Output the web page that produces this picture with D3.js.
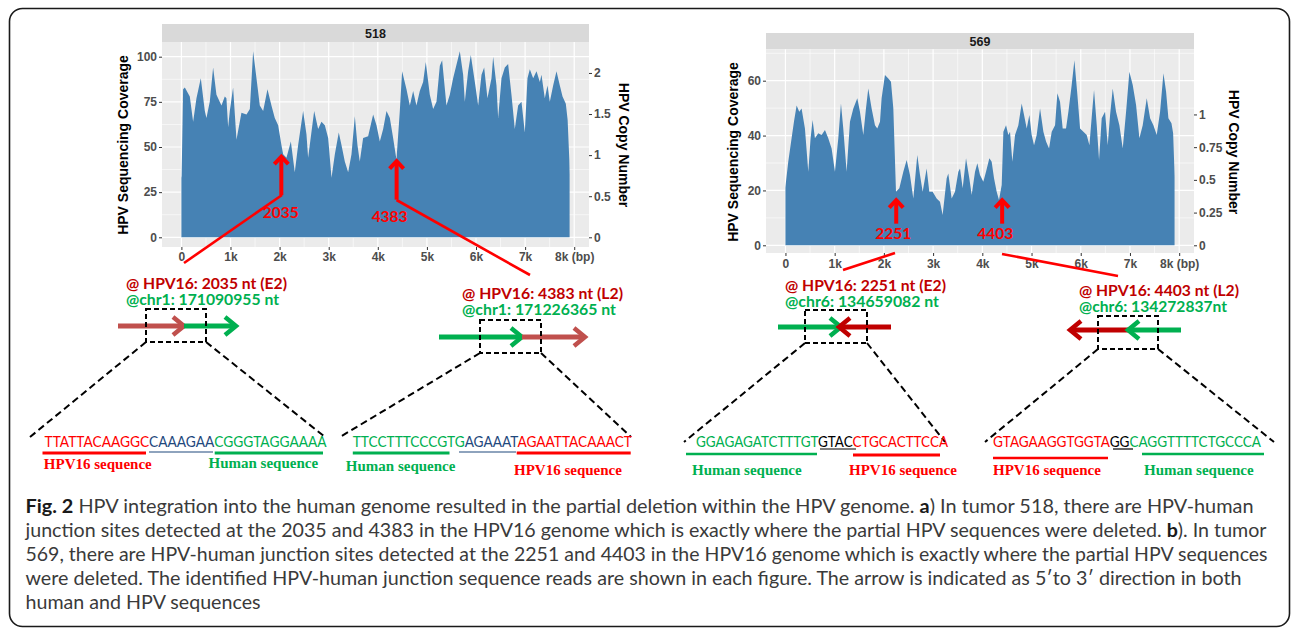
<!DOCTYPE html>
<html>
<head>
<meta charset="utf-8">
<script src="https://cdn.jsdelivr.net/npm/d3@7"></script>
<style>
  body { margin: 0; background: #fff; }
  svg { display: block; font-family: "Liberation Sans", Arial, sans-serif; }
</style>
</head>
<body>
<svg id="fig" width="1292" height="628"></svg>
<script>
// coverage along the HPV16 genome (bp, reads)
const pos518 = [0, 5, 35, 70, 171, 239, 307, 395, 477, 510, 578, 646, 714, 816, 884, 917, 952, 986, 1053, 1122,
  1223, 1326, 1394, 1461, 1529, 1597, 1665, 1753, 1834, 1902, 1970, 2038, 2072, 2140, 2229, 2309, 2377, 2479, 2547, 2581,
  2704, 2785, 2853, 2921, 2989, 3057, 3125, 3205, 3261, 3328, 3396, 3464, 3532, 3586, 3633, 3701, 3803, 3905, 3973, 4041,
  4109, 4177, 4245, 4312, 4380, 4448, 4495, 4584, 4652, 4720, 4787, 4855, 4923, 4977, 5059, 5127, 5195, 5263, 5310, 5398,
  5466, 5534, 5670, 5738, 5772, 5840, 5894, 5976, 6044, 6112, 6166, 6233, 6315, 6349, 6417, 6451, 6519, 6587, 6654, 6722,
  6790, 6858, 6926, 6994, 7048, 7096, 7164, 7232, 7300, 7333, 7401, 7456, 7503, 7571, 7639, 7707, 7762, 7829, 7866, 7900, 7906];
const cov518 = [33, 34, 82, 83, 78, 64, 77, 88, 70, 66, 75, 94, 79, 73, 78, 77, 61, 70, 83, 54,
  69, 68, 71, 103, 88, 73, 70, 82, 73, 66, 62, 51, 46, 44, 53, 36, 51, 70, 57, 44,
  70, 60, 64, 62, 55, 33, 46, 58, 51, 42, 36, 46, 67, 51, 42, 55, 56, 68, 62, 53,
  60, 70, 66, 55, 43, 70, 92, 82, 73, 81, 73, 81, 86, 97, 79, 71, 75, 95, 98, 73,
  79, 88, 103, 90, 75, 92, 101, 86, 73, 90, 94, 77, 88, 100, 84, 66, 88, 94, 96, 79,
  60, 73, 75, 58, 88, 93, 88, 92, 86, 90, 77, 84, 75, 84, 92, 84, 78, 74, 65, 43, 35];

const pos569 = [0, 10, 57, 125, 173, 227, 281, 328, 396, 464, 511, 552, 599, 667, 735, 803, 870, 938, 1006, 1074,
  1128, 1175, 1243, 1311, 1379, 1460, 1514, 1582, 1636, 1683, 1751, 1819, 1866, 1921, 1954, 2022, 2090, 2144, 2192, 2246,
  2314, 2395, 2463, 2530, 2598, 2679, 2734, 2788, 2869, 2923, 2991, 3072, 3140, 3194, 3276, 3309, 3377, 3445, 3513, 3547,
  3601, 3669, 3736, 3784, 3852, 3899, 3953, 4021, 4075, 4143, 4190, 4238, 4292, 4339, 4394, 4428, 4482, 4529, 4563, 4610,
  4665, 4732, 4800, 4848, 4902, 4956, 5003, 5051, 5105, 5173, 5241, 5295, 5356, 5410, 5478, 5525, 5579, 5633, 5701, 5749,
  5816, 5871, 5932, 5986, 6054, 6121, 6176, 6243, 6270, 6325, 6372, 6426, 6494, 6548, 6596, 6650, 6717, 6785, 6853, 6921,
  6988, 7056, 7124, 7192, 7259, 7341, 7409, 7476, 7544, 7612, 7680, 7734, 7781, 7843, 7877, 7900, 7906];
const cov569 = [21, 23, 30.5, 39, 45, 51, 48.7, 49.9, 42.6, 26.8, 39, 45.7, 39, 40.8, 40.2, 42, 39, 35.3, 26.8, 39,
  51.7, 42.6, 26.8, 45, 49.9, 53.6, 48.7, 40.2, 49.9, 57.2, 49.9, 43.8, 42.6, 45, 53.6, 62.1, 60.8, 59.6, 49.9, 19.5,
  20.8, 26.8, 31.1, 25.6, 17.1, 32.9, 25.6, 19.5, 28, 19.5, 19.5, 17.1, 15.9, 11, 24.4, 26.2, 17.1, 19.5, 26.8, 28,
  20.8, 31.7, 24.4, 18.3, 26.8, 29.9, 25.6, 23.2, 26.8, 31.7, 30.5, 24.4, 19.5, 16.5, 22, 41.4, 43.8, 40.2, 41.4, 30.5,
  40.2, 43.8, 51.7, 47.5, 42.6, 47.5, 40.2, 36.5, 40.2, 49.9, 41.4, 37.8, 35.3, 41.4, 43.8, 55.4, 52.3, 42.6, 42.6, 48.7,
  58.4, 67.5, 54.8, 42.6, 41.4, 40.2, 36.5, 51.1, 56.6, 43.8, 31.1, 46.3, 48.7, 36.5, 47.5, 57.2, 48.7, 43.8, 35.3, 48.7,
  63.3, 58.4, 51.1, 39, 43.8, 53.6, 46.3, 43.8, 40.2, 48.7, 62.7, 56, 46.3, 44.5, 40.8, 29, 25];

const xTicks = [0, 1000, 2000, 3000, 4000, 5000, 6000, 7000, 8000];
const xTickLabels = ["0", "1k", "2k", "3k", "4k", "5k", "6k", "7k", "8k (bp)"];
const covTicks518 = [0, 25, 50, 75, 100];
const copyTicks518 = [0, 0.5, 1, 1.5, 2];
const covTicks569 = [0, 20, 40, 60];
const copyTicks569 = [0, 0.25, 0.5, 0.75, 1];
const readsPerCopy518 = 45.5;
const readsPerCopy569 = 47.7;

// junction sites (bp) and coverage where the arrow tip sits
const sites518 = [2035, 4383];
const tipCov518 = [45.5, 43];
const sites569 = [2251, 4403];
const tipCov569 = [17, 17];

const hpvSiteText = ["@ HPV16: 2035 nt (E2)", "@ HPV16: 4383 nt (L2)", "@ HPV16: 2251 nt (E2)", "@ HPV16: 4403 nt (L2)"];
const chrSiteText = ["@chr1: 171090955 nt", "@chr1: 171226365 nt", "@chr6: 134659082 nt", "@chr6: 134272837nt"];
const seqParts = [
  [["TTATTACAAGGC", "hpv"], ["CAAAGAA", "mid"], ["CGGGTAGGAAAA", "hum"]],
  [["TTCCTTTCCCGTG", "hum"], ["AGAAAT", "mid"], ["AGAATTACAAACT", "hpv"]],
  [["GGAGAGATCTTTGT", "hum"], ["GTAC", "ovl"], ["CTGCACTTCCA", "hpv"]],
  [["GTAGAAGGTGGTA", "hpv"], ["GG", "ovl"], ["CAGGTTTTCTGCCCA", "hum"]]
];
const seqLabels = [
  ["HPV16 sequence", "Human sequence"],
  ["Human sequence", "HPV16 sequence"],
  ["Human sequence", "HPV16 sequence"],
  ["HPV16 sequence", "Human sequence"]
];

const captionLines = [
  [["Fig. 2", true], [" HPV integration into the human genome resulted in the partial deletion within the HPV genome. ", false], ["a", true], [") In tumor 518, there are HPV-human", false]],
  [["junction sites detected at the 2035 and 4383 in the HPV16 genome which is exactly where the partial HPV sequences were deleted. ", false], ["b", true], ["). In tumor", false]],
  [["569, there are HPV-human junction sites detected at the 2251 and 4403 in the HPV16 genome which is exactly where the partial HPV sequences", false]],
  [["were deleted. The identified HPV-human junction sequence reads are shown in each figure. The arrow is indicated as 5\u2032to 3\u2032 direction in both", false]],
  [["human and HPV sequences", false]]
];

const colors = { hpv: "#ff0000", mid: "#1f497d", hum: "#00b050", ovl: "#000000" };

const svg = d3.select("#fig");

// outer frame
svg.append("rect")
  .attr("x", 9.5).attr("y", 8.5).attr("width", 1280).attr("height", 618).attr("rx", 13)
  .attr("fill", "none").attr("stroke", "#1a1a1a").attr("stroke-width", 1.6);

function styleAxis(sel) {
  sel.attr("font-family", null).attr("font-size", null);
  sel.select(".domain").remove();
  sel.selectAll(".tick line").attr("stroke", "#333").attr("stroke-width", 1);
  sel.selectAll(".tick text")
    .attr("fill", "#4d4d4d").style("font-weight", "bold").style("font-size", "12px")
    .style("font-family", "'Liberation Sans', Arial, sans-serif");
}

function coveragePanel(o) {
  const g = svg.append("g");
  const x = d3.scaleLinear().domain([-395, 8301]).range([o.left, o.right]);
  const y = d3.scaleLinear().domain([0, o.refCov]).range([o.y0, o.yRef]);
  const yCopy = d3.scaleLinear().domain([0, 1]).range([y(0), y(o.perCopy)]);

  g.append("rect").attr("x", o.left).attr("y", o.stripTop)
    .attr("width", o.right - o.left).attr("height", o.top - o.stripTop).attr("fill", "#d9d9d9");
  g.append("text").attr("x", (o.left + o.right) / 2).attr("y", (o.stripTop + o.top) / 2 + 4.5)
    .attr("text-anchor", "middle").attr("fill", "#1a1a1a")
    .style("font-weight", "bold").style("font-size", "12.5px").text(o.title);

  g.append("rect").attr("x", o.left).attr("y", o.top)
    .attr("width", o.right - o.left).attr("height", o.bottom - o.top).attr("fill", "#ebebeb");

  const step = o.covTicks[1] - o.covTicks[0];
  const yMinor = o.covTicks.map(v => v + step / 2).filter(v => y(v) > o.top && y(v) < o.bottom);
  const xMinor = xTicks.map(v => v + 500).filter(v => x(v) < o.right);

  g.selectAll(null).data(yMinor).enter().append("line")
    .attr("x1", o.left).attr("x2", o.right).attr("y1", d => y(d)).attr("y2", d => y(d))
    .attr("stroke", "#fff").attr("stroke-width", 0.6);
  g.selectAll(null).data(xMinor).enter().append("line")
    .attr("y1", o.top).attr("y2", o.bottom).attr("x1", d => x(d)).attr("x2", d => x(d))
    .attr("stroke", "#fff").attr("stroke-width", 0.6);
  g.selectAll(null).data(o.covTicks).enter().append("line")
    .attr("x1", o.left).attr("x2", o.right).attr("y1", d => y(d)).attr("y2", d => y(d))
    .attr("stroke", "#fff").attr("stroke-width", 1.2);
  g.selectAll(null).data(xTicks).enter().append("line")
    .attr("y1", o.top).attr("y2", o.bottom).attr("x1", d => x(d)).attr("x2", d => x(d))
    .attr("stroke", "#fff").attr("stroke-width", 1.2);

  const area = d3.area()
    .x(i => x(o.pos[i]))
    .y0(y(0))
    .y1(i => y(o.cov[i]));
  g.append("path").datum(d3.range(o.pos.length))
    .attr("d", area).attr("fill", "#4682b4");

  g.append("g").attr("transform", `translate(0,${o.bottom})`)
    .call(d3.axisBottom(x).tickValues(xTicks).tickFormat((d, i) => xTickLabels[i]).tickSize(3).tickPadding(o.xPad))
    .call(styleAxis);
  g.append("g").attr("transform", `translate(${o.left},0)`)
    .call(d3.axisLeft(y).tickValues(o.covTicks).tickSize(3).tickPadding(2))
    .call(styleAxis);
  g.append("g").attr("transform", `translate(${o.right},0)`)
    .call(d3.axisRight(yCopy).tickValues(o.copyTicks).tickFormat(d => String(d)).tickSize(3).tickPadding(2))
    .call(styleAxis);

  g.append("text").attr("transform", `translate(${o.leftTitleX},${o.titleY}) rotate(-90)`)
    .attr("text-anchor", "middle").attr("fill", "#000")
    .style("font-weight", "bold").style("font-size", "14px").text("HPV Sequencing Coverage");
  g.append("text").attr("transform", `translate(${o.rightTitleX},${o.titleY}) rotate(90)`)
    .attr("text-anchor", "middle").attr("fill", "#000")
    .style("font-weight", "bold").style("font-size", "14px").text("HPV Copy Number");

  // red leader lines towards the junction sketches
  o.leaders.forEach(l => {
    g.append("line").attr("x1", l[0]).attr("y1", l[1]).attr("x2", l[2]).attr("y2", l[3])
      .attr("stroke", "#ff0000").attr("stroke-width", 2.6);
  });

  // junction arrows
  o.sites.forEach((s, i) => {
    const ax = x(s);
    const tip = y(o.tips[i]);
    const base = tip + o.arrowLen;
    g.append("line").attr("x1", ax).attr("x2", ax).attr("y1", base).attr("y2", tip + 2)
      .attr("stroke", "#ff0000").attr("stroke-width", 4);
    g.append("path").attr("d", `M${ax - 7},${tip + 9}L${ax},${tip + 1.5}L${ax + 7},${tip + 9}`)
      .attr("fill", "none").attr("stroke", "#ff0000").attr("stroke-width", 4);
    g.append("text").attr("x", ax + o.labelDx[i]).attr("y", base + o.labelDy)
      .attr("text-anchor", "middle").attr("fill", "#ff0000")
      .style("font-family", "Lato, sans-serif").style("font-weight", "bold").style("font-size", "15.5px")
      .text(s);
  });
}

coveragePanel({
  title: "518", pos: pos518, cov: cov518,
  left: 162, right: 589, stripTop: 24, top: 42, bottom: 247,
  refCov: 100, y0: 237.3, yRef: 56.7, perCopy: readsPerCopy518,
  covTicks: covTicks518, copyTicks: copyTicks518, xPad: 2,
  leftTitleX: 128, rightTitleX: 619, titleY: 145,
  sites: sites518, tips: tipCov518, arrowLen: 40, labelDx: [-0.5, -7], labelDy: 22.5,
  leaders: [[282, 195, 184, 263], [396.5, 200, 530, 275]]
});

coveragePanel({
  title: "569", pos: pos569, cov: cov569,
  left: 766, right: 1194, stripTop: 33, top: 49.3, bottom: 253,
  refCov: 60, y0: 245.3, yRef: 80.7, perCopy: readsPerCopy569,
  covTicks: covTicks569, copyTicks: copyTicks569, xPad: 3,
  leftTitleX: 738, rightTitleX: 1229, titleY: 152,
  sites: sites569, tips: tipCov569, arrowLen: 25, labelDx: [-3, -7], labelDy: 15.5,
  leaders: [[895, 253, 843, 270], [1002, 254, 1118, 276]]
});

// junction sketches below the charts
const sketchLayout = [
  { tx: 126, ty: [288.5, 305], tw: [161, 153],
    arrows: [[118, 184, 326, "#c0504d"], [184, 236, 326, "#00b050"]],
    box: [146, 309, 60, 33], lines: [[146, 342, 30, 437], [206, 342, 325, 437]],
    seq: [44.6, 326.6],
    under: [[42.5, 146, 453, 3], [149, 213, 452, 1.2], [214.7, 323, 453, 3]],
    labels: [[43.8, 469], [208.5, 468]] },
  { tx: 462, ty: [298.5, 315], tw: [161, 154],
    arrows: [[439, 522, 337, "#00b050"], [522, 585, 337, "#c0504d"]],
    box: [480, 320, 61, 33], lines: [[480, 353, 340, 437], [541, 353, 631, 437]],
    seq: [352.8, 631.9],
    under: [[352.8, 449.5, 453, 3], [459, 516, 452, 1.2], [516.7, 630.7, 453, 3]],
    labels: [[345.8, 471], [514, 475]] },
  { tx: 785, ty: [290.5, 307], tw: [161, 154],
    arrows: [[778, 841, 327, "#00b050"], [891, 839, 327, "#c00000"]],
    box: [805, 310, 62, 33], lines: [[805, 343, 684, 442], [867, 343, 945, 442]],
    seq: [696, 948],
    under: [[686, 817, 454, 2.6], [820, 856, 449, 1.2], [853, 940, 455, 3]],
    labels: [[692, 475], [849, 475]] },
  { tx: 1079, ty: [295.5, 312], tw: [160, 148],
    arrows: [[1128, 1070, 330, "#c00000"], [1181, 1128, 330, "#00b050"]],
    box: [1098, 316, 60, 33], lines: [[1098, 349, 985, 442], [1158, 349, 1274, 442]],
    seq: [993, 1261],
    under: [[993, 1108, 458, 2.4], [1113, 1133, 449, 1.2], [1142, 1264, 454, 2.6]],
    labels: [[993, 475], [1144, 475]] }
];

function blockArrow(g, x1, x2, yy, color) {
  const dir = x2 > x1 ? 1 : -1;
  g.append("line").attr("x1", x1).attr("x2", x2 - dir * 2).attr("y1", yy).attr("y2", yy)
    .attr("stroke", color).attr("stroke-width", 5);
  g.append("path").attr("d", `M${x2 - dir * 11},${yy - 9}L${x2},${yy}L${x2 - dir * 11},${yy + 9}`)
    .attr("fill", "none").attr("stroke", color).attr("stroke-width", 4.5);
}

const sk = svg.append("g");
sketchLayout.forEach((L, k) => {
  sk.append("text").attr("x", L.tx).attr("y", L.ty[0]).attr("fill", "#c00000")
    .attr("textLength", L.tw[0]).attr("lengthAdjust", "spacingAndGlyphs")
    .style("font-family", "Lato, sans-serif").style("font-weight", "bold").style("font-size", "15px")
    .text(hpvSiteText[k]);
  sk.append("text").attr("x", L.tx).attr("y", L.ty[1]).attr("fill", "#00b050")
    .attr("textLength", L.tw[1]).attr("lengthAdjust", "spacingAndGlyphs")
    .style("font-family", "Lato, sans-serif").style("font-weight", "bold").style("font-size", "15px")
    .text(chrSiteText[k]);

  L.arrows.forEach(a => blockArrow(sk, a[0], a[1], a[2], a[3]));

  sk.append("rect").attr("x", L.box[0]).attr("y", L.box[1]).attr("width", L.box[2]).attr("height", L.box[3])
    .attr("fill", "none").attr("stroke", "#000").attr("stroke-width", 2).attr("stroke-dasharray", "5,3");
  L.lines.forEach(l => {
    sk.append("line").attr("x1", l[0]).attr("y1", l[1]).attr("x2", l[2]).attr("y2", l[3])
      .attr("stroke", "#000").attr("stroke-width", 2).attr("stroke-dasharray", "7,4");
  });

  // one text per read, coloured runs as tspans
  const seqText = sk.append("text").attr("x", L.seq[0]).attr("y", 447)
    .attr("textLength", L.seq[1] - L.seq[0]).attr("lengthAdjust", "spacingAndGlyphs")
    .style("font-family", "Lato, sans-serif").style("font-size", "14.5px");
  seqParts[k].forEach((p, j) => {
    seqText.append("tspan").attr("fill", colors[p[1]]).text(p[0]);
    const u = L.under[j];
    sk.append("line").attr("x1", u[0]).attr("x2", u[1]).attr("y1", u[2]).attr("y2", u[2])
      .attr("stroke", colors[p[1]]).attr("stroke-width", u[3]);
  });

  seqLabels[k].forEach((t, j) => {
    sk.append("text").attr("x", L.labels[j][0]).attr("y", L.labels[j][1])
      .attr("fill", t.startsWith("HPV") ? colors.hpv : colors.hum)
      .style("font-family", "'Liberation Serif', 'Times New Roman', serif")
      .style("font-weight", "bold").style("font-size", "15px")
      .text(t);
  });
});

// caption
const capWidths = [1228, 1241, 1242, 1216, 235];
const cap = svg.append("g");
captionLines.forEach((line, i) => {
  const t = cap.append("text").attr("x", 25.5).attr("y", 513 + i * 24)
    .attr("textLength", capWidths[i]).attr("lengthAdjust", "spacingAndGlyphs")
    .style("font-family", "Lato, sans-serif").style("font-size", "19px").attr("fill", "#3a3a3a");
  line.forEach(part => {
    t.append("tspan").text(part[0])
      .attr("fill", part[1] ? "#1a1a1a" : "#3a3a3a")
      .style("font-weight", part[1] ? "bold" : "normal");
  });
});
</script>
</body>
</html>
